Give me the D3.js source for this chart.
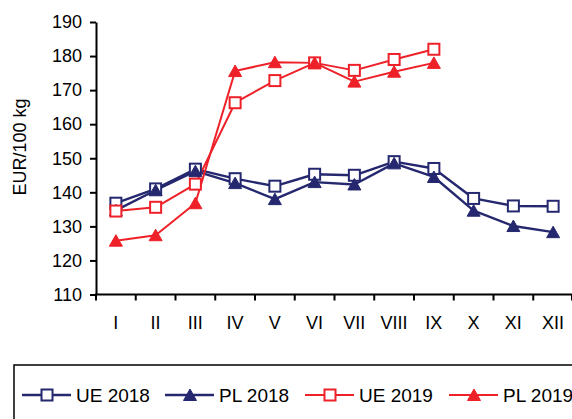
<!DOCTYPE html>
<html>
<head>
<meta charset="utf-8">
<script src="https://cdn.jsdelivr.net/npm/d3@7/dist/d3.min.js"></script>
<style>
  html, body { margin: 0; padding: 0; background: #fff; }
  svg { display: block; font-family: "Liberation Sans", Arial, sans-serif; }
</style>
</head>
<body>
<svg id="chart" width="572" height="419"></svg>
<script>
// Months (Roman numerals)
const months = ["I", "II", "III", "IV", "V", "VI", "VII", "VIII", "IX", "X", "XI", "XII"];
const yTicks = [110, 120, 130, 140, 150, 160, 170, 180, 190];

// Prices, EUR/100 kg
const ue2018 = [136.8, 141.0, 146.8, 144.0, 141.8, 145.3, 145.0, 149.0, 147.0, 138.2, 136.0, 135.9];
const pl2018 = [134.7, 140.6, 146.2, 142.7, 138.0, 143.0, 142.3, 148.5, 144.5, 134.6, 130.1, 128.3];
const ue2019 = [134.5, 135.6, 142.4, 166.3, 172.8, 178.0, 175.8, 179.0, 182.0];
const pl2019 = [125.8, 127.4, 136.8, 175.6, 178.2, 178.0, 172.5, 175.4, 178.0];

const NAVY = "#25286f";
const RED = "#ee2028";

const series = [
  { name: "UE 2018", values: ue2018, color: NAVY, marker: "square", width: 2.4 },
  { name: "PL 2018", values: pl2018, color: NAVY, marker: "triangle", width: 2.4 },
  { name: "UE 2019", values: ue2019, color: RED, marker: "square", width: 2 },
  { name: "PL 2019", values: pl2019, color: RED, marker: "triangle", width: 2 }
];

const svg = d3.select("#chart");

const x = d3.scaleBand().domain(months).range([96, 573]);
const y = d3.scaleLinear().domain([110, 190]).range([294.5, 22]);
const cx = m => x(m) + x.bandwidth() / 2;

// Y axis
const yAxis = svg.append("g")
  .attr("transform", "translate(96,0)")
  .call(d3.axisLeft(y).tickValues(yTicks).tickSize(6).tickPadding(8).tickSizeOuter(0));
yAxis.select(".domain").attr("stroke", "#000").attr("stroke-width", 2);
yAxis.selectAll(".tick line").attr("stroke", "#000").attr("stroke-width", 2);
yAxis.selectAll(".tick text").attr("font-size", 18).attr("fill", "#000")
  .attr("font-family", "Liberation Sans, Arial, sans-serif");

// X axis: ticks sit on the boundaries between months
const xAxis = svg.append("g").attr("transform", "translate(0,294.5)");
xAxis.append("line")
  .attr("x1", 95).attr("x2", 573).attr("y1", 0).attr("y2", 0)
  .attr("stroke", "#000").attr("stroke-width", 2);
const bounds = months.map(m => x(m)).concat([x.range()[1] - 1]);
xAxis.selectAll("line.tk").data(bounds).join("line")
  .attr("class", "tk")
  .attr("x1", d => d).attr("x2", d => d)
  .attr("y1", 0).attr("y2", 6)
  .attr("stroke", "#000").attr("stroke-width", 2);
xAxis.selectAll("text").data(months).join("text")
  .attr("x", d => cx(d)).attr("y", 34)
  .attr("text-anchor", "middle")
  .attr("font-size", 18).attr("fill", "#000")
  .text(d => d);

// Y axis title
svg.append("text")
  .attr("transform", "translate(26,147) rotate(-90)")
  .attr("text-anchor", "middle")
  .attr("font-size", 18).attr("fill", "#000")
  .text("EUR/100 kg");

// Marker shapes
function drawMarker(g, type, color) {
  if (type === "square") {
    g.append("rect")
      .attr("x", -5.5).attr("y", -5.5).attr("width", 11).attr("height", 11)
      .attr("fill", "#fff").attr("stroke", color).attr("stroke-width", 2);
  } else {
    g.append("path")
      .attr("d", "M0,-6 L6.5,5.5 L-6.5,5.5 Z")
      .attr("fill", color).attr("stroke", color).attr("stroke-width", 1);
  }
}

const line = d3.line().x((d, i) => cx(months[i])).y(d => y(d));

const plot = svg.append("g");
series.forEach(s => {
  plot.append("path")
    .datum(s.values)
    .attr("d", line)
    .attr("fill", "none")
    .attr("stroke", s.color)
    .attr("stroke-width", s.width)
    .attr("stroke-linejoin", "round");
});
series.forEach(s => {
  s.values.forEach((v, i) => {
    const g = plot.append("g").attr("transform", `translate(${cx(months[i])},${y(v)})`);
    drawMarker(g, s.marker, s.color);
  });
});

// Legend
const legend = svg.append("g");
legend.append("rect")
  .attr("x", 14).attr("y", 365).attr("width", 620).attr("height", 100)
  .attr("fill", "none").attr("stroke", "#000").attr("stroke-width", 1.5);
const legendX = [22, 165, 305, 449];
series.forEach((s, i) => {
  const lx = legendX[i];
  const ly = 395;
  legend.append("line")
    .attr("x1", lx).attr("x2", lx + 49).attr("y1", ly).attr("y2", ly)
    .attr("stroke", s.color).attr("stroke-width", s.width);
  const g = legend.append("g").attr("transform", `translate(${lx + 25},${ly})`);
  drawMarker(g, s.marker, s.color);
  legend.append("text")
    .attr("x", lx + 54).attr("y", ly + 7)
    .attr("font-size", 19).attr("fill", "#000")
    .text(s.name);
});
</script>
</body>
</html>
